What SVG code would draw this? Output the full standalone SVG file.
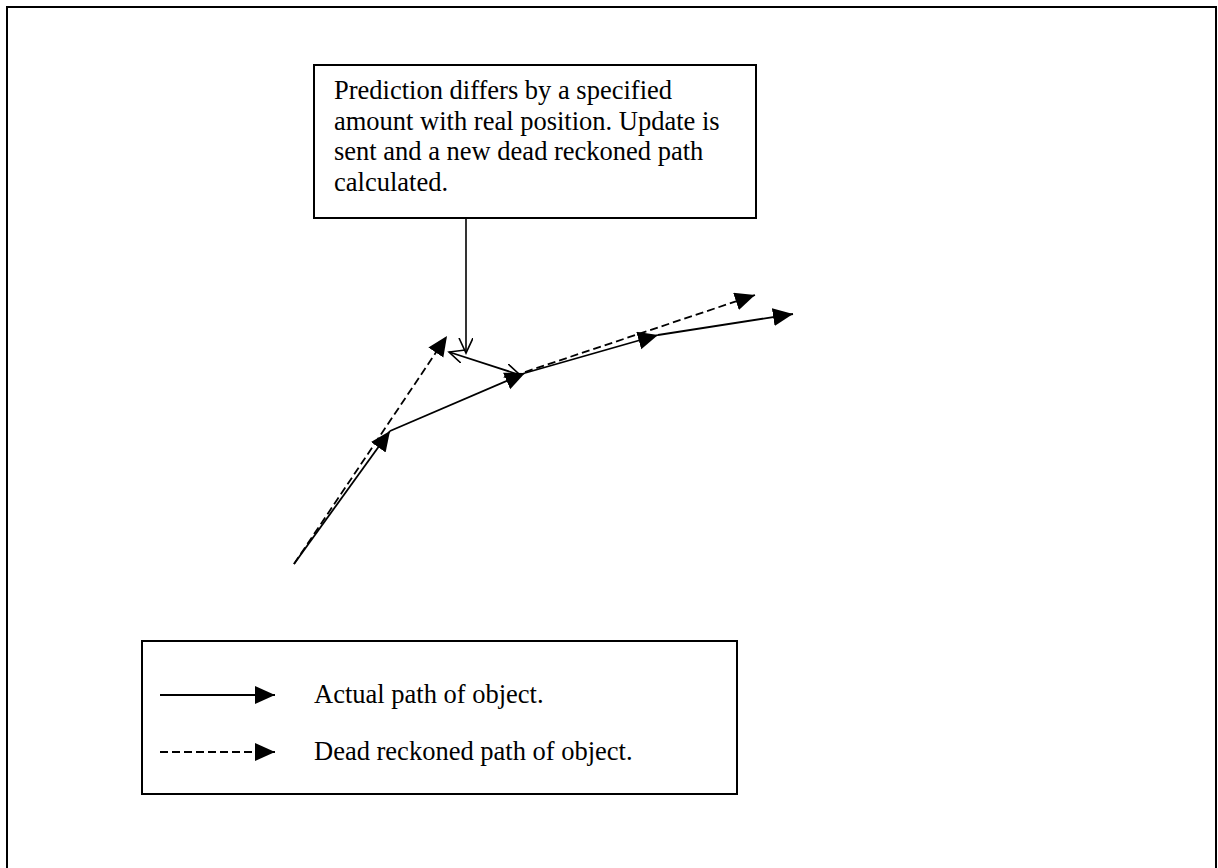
<svg xmlns="http://www.w3.org/2000/svg" width="1218" height="868" viewBox="0 0 1218 868">
  <style>
    .frame { fill: none; stroke: #000; stroke-width: 2; }
    .box { fill: #fff; stroke: #000; stroke-width: 2; }
    .label { font-family: "Liberation Serif", "Times New Roman", serif; font-size: 26.5px; fill: #000; }
    .solid { fill: none; stroke: #000; stroke-width: 1.8; marker-end: url(#tri); }
    .dashed { fill: none; stroke: #000; stroke-width: 1.8; stroke-dasharray: 8 4; marker-end: url(#tri); }
    .pointer { fill: none; stroke: #000; stroke-width: 1.6; marker-end: url(#open); }
    .delta { fill: none; stroke: #000; stroke-width: 1.8; marker-start: url(#open); marker-end: url(#open); }
  </style>
  <defs>
    <!-- filled arrowhead for path segments -->
    <marker id="tri" markerUnits="userSpaceOnUse" markerWidth="22" markerHeight="20" refX="20" refY="9" orient="auto-start-reverse">
      <path d="M0,0 L20,9 L0,18 z" fill="#000"/>
    </marker>
    <!-- open V arrowhead for callout and error arrows -->
    <marker id="open" markerUnits="userSpaceOnUse" markerWidth="18" markerHeight="16" refX="15" refY="7" orient="auto-start-reverse">
      <path d="M0,0 L15,7 L0,14" fill="none" stroke="#000" stroke-width="1.6"/>
    </marker>
  </defs>

  <rect width="1218" height="868" fill="#fff"/>
  <!-- page frame, open at the bottom -->
  <rect class="frame" x="7" y="7" width="1209" height="880"/>

  <g id="connectors">
    <!-- actual path -->
    <line class="solid" x1="294" y1="564" x2="390" y2="431"/>
    <line class="solid" x1="390" y1="431" x2="525" y2="373"/>
    <line class="solid" x1="525" y1="373" x2="658" y2="335"/>
    <line class="solid" x1="658" y1="335" x2="793" y2="314"/>
    <!-- dead reckoned path -->
    <line class="dashed" x1="294" y1="564" x2="447" y2="336"/>
    <line class="dashed" x1="525" y1="372" x2="755" y2="295"/>
    <!-- prediction error -->
    <line class="delta" x1="449" y1="352" x2="520" y2="375"/>
    <!-- callout pointer -->
    <line class="pointer" x1="466" y1="218" x2="466" y2="353"/>
  </g>

  <g id="note">
    <rect class="box" x="314" y="65" width="442" height="153"/>
    <text class="label" x="334" y="99">Prediction differs by a specified</text>
    <text class="label" x="334" y="129.5">amount with real position. Update is</text>
    <text class="label" x="334" y="160">sent and a new dead reckoned path</text>
    <text class="label" x="334" y="190.5">calculated.</text>
  </g>

  <g id="legend">
    <rect class="box" x="142" y="641" width="595" height="153"/>
    <line class="solid" x1="160" y1="695" x2="275" y2="695"/>
    <text class="label" x="314" y="703">Actual path of object.</text>
    <line class="dashed" x1="160" y1="752" x2="275" y2="752"/>
    <text class="label" x="314" y="760">Dead reckoned path of object.</text>
  </g>
</svg>
